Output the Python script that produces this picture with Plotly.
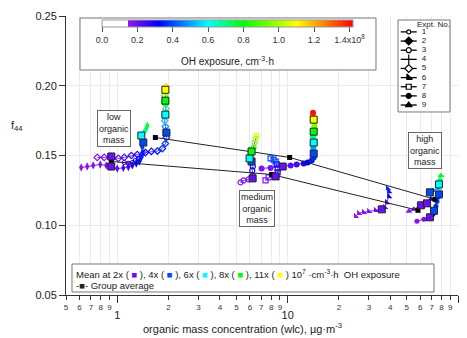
import math
import plotly.graph_objects as go
from plotly.colors import sample_colorscale

FONT = "Liberation Sans, Arial, sans-serif"

# ---------------- data ----------------
OH_MAX = 1.42          # colour-scale maximum, 1e8 cm^-3 h

expt1_x = [1.099, 1.161, 1.225, 1.276, 1.329, 1.384, 1.422]
expt1_y = [0.1450, 0.1443, 0.1450, 0.1464, 0.1479, 0.1500, 0.1521]
expt1_oh = [0.22, 0.25, 0.28, 0.31, 0.33, 0.35, 0.37]

expt2_x = [7.03, 7.94, 9.35, 10.41, 11.30, 12.42, 13.11, 13.84, 14.22, 14.30, 14.15, 14.25,
           14.10, 14.22, 14.35, 14.18, 14.03, 14.10]
expt2_y = [0.1407, 0.1411, 0.1421, 0.1429, 0.1436, 0.1443, 0.1450, 0.1464, 0.1486, 0.1514,
           0.1557, 0.1593, 0.1636, 0.1671, 0.1714, 0.1757, 0.1786, 0.1807]
expt2_oh = [0.17, 0.18, 0.20, 0.22, 0.25, 0.29, 0.32, 0.35, 0.37, 0.40, 0.50, 0.60, 0.70,
            0.80, 0.95, 1.10, 1.25, 1.40]

expt3_x = [5.29, 5.51, 5.90, 6.23, 6.23, 6.20, 6.25, 6.14, 5.98, 6.06, 6.14, 6.31, 6.40, 6.49, 6.57]
expt3_y = [0.1307, 0.1321, 0.1329, 0.1336, 0.1357, 0.1393, 0.1421, 0.1457, 0.1479, 0.1507,
           0.1529, 0.1557, 0.1593, 0.1621, 0.1643]
expt3_oh = [0.15, 0.17, 0.19, 0.20, 0.24, 0.30, 0.35, 0.40, 0.60, 0.70, 0.80, 0.88, 0.95, 1.00, 1.05]

expt4_x = [0.614, 0.666, 0.722, 0.794, 0.862, 0.922, 1.000, 1.085, 1.161, 1.225, 1.293, 1.347,
           1.384, 1.403, 1.403, 1.422, 1.384, 1.384, 1.441, 1.481, 1.501]
expt4_y = [0.1414, 0.1421, 0.1429, 0.1436, 0.1429, 0.1421, 0.1407, 0.1411, 0.1418, 0.1429,
           0.1443, 0.1457, 0.1486, 0.1521, 0.1557, 0.1593, 0.1629, 0.1643, 0.1671, 0.1693, 0.1714]
expt4_oh = [0.15, 0.16, 0.17, 0.18, 0.19, 0.20, 0.22, 0.24, 0.26, 0.28, 0.31, 0.33, 0.35, 0.37,
            0.39, 0.41, 0.55, 0.60, 0.66, 0.72, 0.76]

expt5_x = [0.763, 0.838, 0.922, 1.014, 1.099, 1.209, 1.311, 1.461, 1.585, 1.719, 1.839, 1.916,
           1.942, 1.942, 1.916, 1.900, 1.916, 1.930, 1.916, 1.916, 1.900, 1.916, 1.916, 1.930]
expt5_y = [0.1486, 0.1486, 0.1493, 0.1479, 0.1486, 0.1500, 0.1507, 0.1521, 0.1529, 0.1532,
           0.1550, 0.1586, 0.1629, 0.1664, 0.1707, 0.1750, 0.1793, 0.1836, 0.1871, 0.1893,
           0.1929, 0.1957, 0.1971, 0.1993]
expt5_oh = [0.17, 0.18, 0.20, 0.22, 0.24, 0.26, 0.28, 0.31, 0.33, 0.35, 0.37, 0.38, 0.39, 0.40,
            0.47, 0.54, 0.60, 0.68, 0.75, 0.80, 0.92, 1.02, 1.10, 1.15]

expt6_x = [25.1, 26.2, 28.0, 30.0, 32.9, 35.7, 37.2, 38.2, 39.3, 39.3, 38.7]
expt6_y = [0.1064, 0.1086, 0.1093, 0.1100, 0.1107, 0.1114, 0.1129, 0.1164, 0.1207, 0.1243, 0.1264]
expt6_oh = [0.15, 0.16, 0.17, 0.18, 0.19, 0.20, 0.23, 0.27, 0.31, 0.34, 0.36]

expt7_x = [7.42, 7.73, 8.50, 8.74, 8.74, 8.62, 8.50, 8.27, 7.94]
expt7_y = [0.1321, 0.1343, 0.1350, 0.1379, 0.1407, 0.1436, 0.1457, 0.1471, 0.1479]
expt7_oh = [0.16, 0.18, 0.20, 0.25, 0.30, 0.33, 0.36, 0.38, 0.40]

expt8_x = [57.4, 63.1, 68.4, 71.3, 72.3, 74.2, 75.3, 76.3, 77.3]
expt8_y = [0.1029, 0.1043, 0.1057, 0.1079, 0.1104, 0.1136, 0.1171, 0.1200, 0.1221]
expt8_oh = [0.16, 0.18, 0.20, 0.27, 0.33, 0.36, 0.38, 0.40, 0.42]

expt9_x = [51.5, 55.1, 60.6, 65.7, 69.4, 68.4, 71.3, 76.3, 77.3, 78.4, 79.4]
expt9_y = [0.1100, 0.1114, 0.1143, 0.1157, 0.1186, 0.1236, 0.1250, 0.1264, 0.1293, 0.1329, 0.1357]
expt9_oh = [0.16, 0.18, 0.20, 0.23, 0.30, 0.40, 0.45, 0.52, 0.60, 0.70, 0.78]

# means at fixed OH exposure (x 1e7 cm^-3 h)
mean_levels = [2, 4, 6, 8, 11]
mean2_x = [0.922, 0.922, 9.35, 6.23, 8.50, 35.7, 60.6, 65.7, 68.4]
mean2_y = [0.1421, 0.1493, 0.1421, 0.1336, 0.1350, 0.1114, 0.1143, 0.1157, 0.1057]
mean4_x = [1.422, 1.942, 14.22, 6.14, 68.4, 77.3, 72.3]
mean4_y = [0.1593, 0.1664, 0.1514, 0.1457, 0.1236, 0.1221, 0.1104]
mean6_x = [1.384, 1.916, 14.22, 5.98, 77.3]
mean6_y = [0.1643, 0.1793, 0.1593, 0.1479, 0.1293]
mean8_x = [1.916, 14.22, 6.14]
mean8_y = [0.1893, 0.1671, 0.1529]
mean11_x = [1.916, 14.22]
mean11_y = [0.1971, 0.1757]

# group averages
grp_upper_x = [1.673, 10.27, 73.2]
grp_upper_y = [0.1629, 0.1486, 0.1186]
grp_lower_x = [0.922, 8.05, 58.2]
grp_lower_y = [0.1457, 0.1364, 0.1107]

expt_numbers = [1, 2, 3, 4, 5, 6, 7, 8, 9]
y_ticks = [0.05, 0.10, 0.15, 0.20, 0.25]
x_major_ticks = [1, 10, 100]
x_minor_vals = [0.5, 0.6, 0.7, 0.8, 0.9, 2, 3, 4, 5, 6, 7, 8, 9, 20, 30, 40, 50, 60, 70, 80, 90]
x_minor_text = ["5", "6", "7", "8", "9", "2", "3", "4", "5", "6", "7", "8", "9",
                "2", "3", "4", "5", "6", "7", "8", "9"]
cb_tickvals = [0.0, 0.2, 0.4, 0.6, 0.8, 1.0, 1.2, 1.4]
cb_ticktext = ["0.0", "0.2", "0.4", "0.6", "0.8", "1.0", "1.2", "1.4x10<sup>8</sup>"]

# ---------------- styles ----------------
oh_colorscale = [[0.0, "rgb(255,255,255)"], [0.104, "rgb(255,255,255)"],
                 [0.1045, "rgb(150,20,240)"], [0.225, "rgb(0,0,255)"],
                 [0.4225, "rgb(0,255,255)"], [0.563, "rgb(0,255,0)"],
                 [0.775, "rgb(255,255,0)"], [1.0, "rgb(255,0,0)"]]

# (symbol, size, open?)
expt_style = {
    1: ("circle-open", 4, True),
    2: ("circle", 6, False),
    3: ("circle-open", 5, True),
    4: ("diamond-tall", 6, False),
    5: ("diamond-open", 5, True),
    6: ("triangle-sw", 6, False),
    7: ("square-open", 5, True),
    8: ("circle", 5, False),
    9: ("triangle-up", 6, False),
}
# (symbol, size, fill)
legend_style = {
    1: ("circle", 4, "white"),
    2: ("diamond", 6, "black"),
    3: ("circle", 5, "white"),
    4: ("line-ns-open", 7, "black"),
    5: ("diamond", 6, "white"),
    6: ("triangle-sw", 6, "black"),
    7: ("square", 5, "white"),
    8: ("circle", 5, "black"),
    9: ("triangle-up", 6, "black"),
}

expt_data = {
    1: (expt1_x, expt1_y, expt1_oh), 2: (expt2_x, expt2_y, expt2_oh),
    3: (expt3_x, expt3_y, expt3_oh), 4: (expt4_x, expt4_y, expt4_oh),
    5: (expt5_x, expt5_y, expt5_oh), 6: (expt6_x, expt6_y, expt6_oh),
    7: (expt7_x, expt7_y, expt7_oh), 8: (expt8_x, expt8_y, expt8_oh),
    9: (expt9_x, expt9_y, expt9_oh),
}
mean_data = [(mean2_x, mean2_y), (mean4_x, mean4_y), (mean6_x, mean6_y),
             (mean8_x, mean8_y), (mean11_x, mean11_y)]

fig = go.Figure()

# experiment trajectories coloured by OH exposure
for n in expt_numbers:
    x, y, oh = expt_data[n]
    sym, sz, is_open = expt_style[n]
    fig.add_trace(go.Scatter(
        x=x, y=y, mode="lines+markers",
        line=dict(color="rgb(110,50,225)", width=1),
        marker=dict(symbol=sym, size=sz, color=oh, coloraxis="coloraxis",
                    line=dict(width=1.2 if is_open else 0)),
        hoverinfo="skip", showlegend=False))

# group averages (on overlay axis so they sit above trajectories)
for gx, gy in [(grp_upper_x, grp_upper_y), (grp_lower_x, grp_lower_y)]:
    fig.add_trace(go.Scatter(
        x=gx, y=gy, mode="lines+markers", xaxis="x2", yaxis="y",
        line=dict(color="#222", width=1),
        marker=dict(symbol="square", size=5, color="black"),
        hoverinfo="skip", showlegend=False))

# mean squares at fixed exposures
for lvl, (mx, my) in zip(mean_levels, mean_data):
    fig.add_trace(go.Scatter(
        x=mx, y=my, mode="markers", xaxis="x2", yaxis="y",
        marker=dict(symbol="square", size=7, color=[lvl / 10.0] * len(mx),
                    coloraxis="coloraxis", line=dict(color="#222", width=1)),
        hoverinfo="skip", showlegend=False))

# inset "Expt. No." legend, built from expt_numbers
LEG_LINE_X = [2.7, 18.7]
LEG_MARK_X = 10.7
LEG_NUM_X = 26
for n in expt_numbers:
    sym, sz, fill = legend_style[n]
    fig.add_trace(go.Scatter(x=LEG_LINE_X, y=[n, n], mode="lines", xaxis="x3", yaxis="y3",
                             line=dict(color="black", width=1.3), hoverinfo="skip",
                             showlegend=False))
    fig.add_trace(go.Scatter(x=[LEG_MARK_X], y=[n], mode="markers", xaxis="x3", yaxis="y3",
                             marker=dict(symbol=sym, size=sz, color=fill,
                                         line=dict(color="black", width=1.2)),
                             hoverinfo="skip", showlegend=False))
fig.add_trace(go.Scatter(x=[LEG_NUM_X] * len(expt_numbers), y=expt_numbers, mode="text",
                         text=[str(n) for n in expt_numbers], xaxis="x3", yaxis="y3",
                         textfont=dict(size=8, color="#222", family=FONT),
                         hoverinfo="skip", showlegend=False))

xr = [math.log10(0.5), math.log10(100)]
GRID = "#ebebeb"
fig.update_layout(
    width=467, height=338,
    margin=dict(l=66, r=9, t=16, b=43),
    paper_bgcolor="white", plot_bgcolor="white",
    font=dict(family=FONT, size=11, color="#222"),
    showlegend=False,
    coloraxis=dict(
        cmin=0, cmax=OH_MAX, colorscale=oh_colorscale, showscale=True,
        colorbar=dict(orientation="h", x=0.412, xanchor="center", y=0.9857, yanchor="top",
                      len=0.640, lenmode="fraction", thickness=7, xpad=0, ypad=0,
                      outlinewidth=1, outlinecolor="#999",
                      tickvals=cb_tickvals, ticktext=cb_ticktext, ticks="outside",
                      ticklen=5, tickcolor="#555",
                      tickfont=dict(size=9, color="#333", family=FONT),
                      title=dict(text=""))),
    xaxis=dict(type="log", range=xr, tickvals=x_major_ticks,
               ticktext=[str(v) for v in x_major_ticks],
               ticks="outside", ticklen=7, tickcolor="#333", tickfont=dict(size=11),
               ticklabelstandoff=3, showline=True, linecolor="#333", linewidth=1,
               showgrid=True, gridcolor=GRID, zeroline=False),
    xaxis2=dict(type="log", overlaying="x", anchor="y", side="bottom", range=xr,
                tickvals=x_minor_vals, ticktext=x_minor_text, ticks="outside", ticklen=4,
                tickcolor="#333", tickfont=dict(size=8, color="#333"),
                showgrid=True, gridcolor=GRID, showline=False, zeroline=False),
    yaxis=dict(range=[0.05, 0.25], tickvals=y_ticks, tickformat=".2f", ticks="outside",
               ticklen=6, tickcolor="#333", tickfont=dict(size=11), showline=True,
               linecolor="#333", linewidth=1, showgrid=True, gridcolor=GRID, zeroline=False),
    xaxis3=dict(domain=[0.847, 0.9796], anchor="y3", range=[0, 52], visible=False),
    yaxis3=dict(domain=[0.656, 0.9856], anchor="x3", range=[9.76, -0.30], visible=False),
)

# boxes
fig.add_shape(type="rect", xref="paper", yref="paper", x0=0.0357, x1=0.7908, y0=0.8065,
              y1=0.9928, line=dict(color="#777", width=1), fillcolor="white", layer="above")
fig.add_shape(type="rect", xref="paper", yref="paper", x0=0.847, x1=0.9796, y0=0.656,
              y1=0.9856, line=dict(color="#777", width=1), fillcolor="rgba(0,0,0,0)",
              layer="above")
fig.add_shape(type="rect", xref="paper", yref="paper", x0=0.0153, x1=0.9388, y0=0.0108,
              y1=0.1111, line=dict(color="#777", width=1), fillcolor="white", layer="above")

# annotations (explicit anchors)
def note(text, x, y, size, xref="paper", yref="paper", xanchor="center", **kw):
    fig.add_annotation(text=text, xref=xref, yref=yref, x=x, y=y, showarrow=False,
                       xanchor=xanchor, yanchor="middle",
                       font=dict(size=size, color="#222", family=FONT), **kw)

note("OH exposure, cm<sup>-3</sup>·h", 0.413, 0.839, 10)
note("Expt. No.", 35.5, 0.15, 8, xref="x3", yref="y3")
note("f<sub>44</sub>", -0.125, 0.606, 11)
note("organic mass concentration (wlc), µg·m<sup>-3</sup>", 0.449, -0.118, 11)

for txt, ax, ay in [("low<br>organic<br>mass", 0.1212, 0.5968),
                    ("medium<br>organic<br>mass", 0.486, 0.3118),
                    ("high<br>organic<br>mass", 0.9158, 0.518)]:
    note(txt, ax, ay, 9, align="center", bgcolor="white", bordercolor="#666",
         borderwidth=1, borderpad=1)

mean_colors = sample_colorscale(oh_colorscale, [lv / 10.0 / OH_MAX for lv in mean_levels])
parts = []
for lv, c in zip(mean_levels, mean_colors):
    parts.append(f'{lv}x ( <span style="color:{c}">■</span> )')
mean_text = "Mean at " + ", ".join(parts) + " 10<sup>7</sup> ·cm<sup>-3</sup>·h  OH exposure"
note(mean_text, 0.0204, 0.0753, 9.5, xanchor="left")
note("-■- Group average", 0.0204, 0.0358, 9.5, xanchor="left")

fig.write_html("out.html")
